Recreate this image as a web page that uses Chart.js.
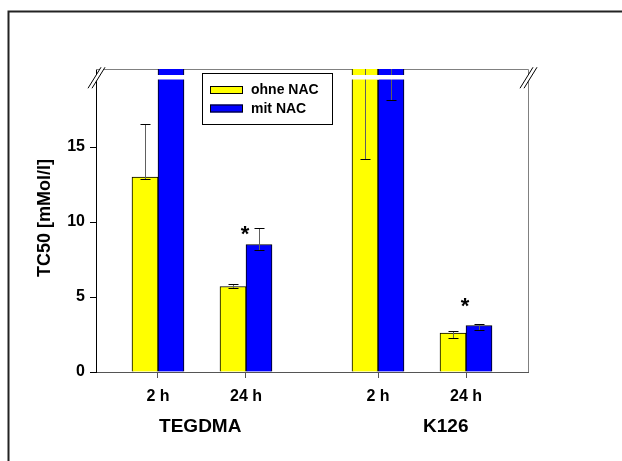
<!DOCTYPE html>
<html>
<head>
<meta charset="utf-8">
<script src="https://cdn.jsdelivr.net/npm/chart.js@4.4.1/dist/chart.umd.min.js"></script>
<style>
  body { margin: 0; background: #fff; }
  canvas { display: block; }
</style>
</head>
<body>
<canvas id="graph" width="622" height="461"></canvas>
<script>
var timeLabels = ['2 h', '24 h', '2 h', '24 h'];
var timePos = [0, 1, 2.5, 3.5];
var groupLabels = ['TEGDMA', 'K126'];
var groupPos = [0.48, 3.27];
var ohneNAC = [13.0, 5.7, 25, 2.6];
var ohneNACErrLo = [12.85, 5.6, 14.2, 2.3];
var ohneNACErrHi = [16.5, 5.9, 35.8, 2.75];
var mitNAC = [28, 8.5, 24, 3.1];
var mitNACErrLo = [null, 8.15, 18.1, 2.8];
var mitNACErrHi = [null, 9.6, 29.9, 3.2];
var sigStar = [null, 9.45, null, 4.65];
var yTicks = [0, 5, 10, 15];

var FONT = '"Liberation Sans", Arial, sans-serif';

function points(vals) {
  return vals.map(function (v, i) { return { x: timePos[i], y: v }; });
}

var errors = [
  { lo: ohneNACErrLo, hi: ohneNACErrHi },
  { lo: mitNACErrLo, hi: mitNACErrHi }
];

// frame, error bars, axis break, legend, labels
var extras = {
  id: 'extras',
  beforeDraw: function (chart) {
    var ctx = chart.ctx;
    ctx.save();
    ctx.strokeStyle = '#222';
    ctx.lineWidth = 2;
    ctx.beginPath();
    ctx.moveTo(8.5, 470);
    ctx.lineTo(8.5, 11.5);
    ctx.lineTo(640, 11.5);
    ctx.stroke();
    ctx.restore();
  },
  beforeDatasetsDraw: function (chart) {
    var ctx = chart.ctx, a = chart.chartArea;
    ctx.save();
    ctx.strokeStyle = '#808080';
    ctx.lineWidth = 1;
    ctx.beginPath();
    ctx.moveTo(a.left, a.top + 0.5);
    ctx.lineTo(a.right + 0.5, a.top + 0.5);
    ctx.lineTo(a.right + 0.5, a.bottom);
    ctx.stroke();
    ctx.restore();
  },
  afterDatasetsDraw: function (chart) {
    var ctx = chart.ctx, a = chart.chartArea;
    var ys = chart.scales.y, xs = chart.scales.x;
    ctx.save();
    ctx.beginPath();
    ctx.rect(a.left, a.top, a.right - a.left, a.bottom - a.top);
    ctx.clip();
    // error bars
    chart.data.datasets.forEach(function (ds, d) {
      var meta = chart.getDatasetMeta(d);
      meta.data.forEach(function (bar, i) {
        var lo = errors[d].lo[i], hi = errors[d].hi[i];
        if (lo == null || hi == null) return;
        var x = Math.round(bar.x) + 0.5;
        var yl = ys.getPixelForValue(lo), yh = ys.getPixelForValue(hi);
        ctx.strokeStyle = '#606060';
        ctx.lineWidth = 1;
        ctx.beginPath();
        ctx.moveTo(x, Math.round(yl) + 0.5);
        ctx.lineTo(x, Math.round(yh) + 0.5);
        ctx.stroke();
        ctx.strokeStyle = '#000';
        [yl, yh].forEach(function (y) {
          ctx.beginPath();
          ctx.moveTo(x - 5, Math.round(y) + 0.5);
          ctx.lineTo(x + 5, Math.round(y) + 0.5);
          ctx.stroke();
        });
      });
    });
    // white break band across bars above the break
    var bt = ys.getPixelForValue(19.8), bb = ys.getPixelForValue(19.5);
    ctx.fillStyle = '#fff';
    chart.data.datasets.forEach(function (ds, d) {
      var meta = chart.getDatasetMeta(d);
      meta.data.forEach(function (bar, i) {
        if (ds.data[i].y > 19.8) {
          ctx.fillRect(bar.x - bar.width / 2 - 1, bt, bar.width + 2, bb - bt);
        }
      });
    });
    ctx.restore();

    // axis break marks
    ctx.save();
    var by = (bt + bb) / 2;
    [a.left, a.right].forEach(function (cx) {
      ctx.fillStyle = '#fff';
      ctx.beginPath();
      ctx.moveTo(cx - 8, by + 11);
      ctx.lineTo(cx + 5, by - 10);
      ctx.lineTo(cx + 9, by - 10);
      ctx.lineTo(cx - 4, by + 11);
      ctx.closePath();
      ctx.fill();
      ctx.strokeStyle = '#000';
      ctx.lineWidth = 1;
      ctx.beginPath();
      ctx.moveTo(cx - 8, by + 11);
      ctx.lineTo(cx + 5, by - 10);
      ctx.moveTo(cx - 4, by + 11);
      ctx.lineTo(cx + 9, by - 10);
      ctx.stroke();
    });

    // significance stars
    ctx.fillStyle = '#000';
    ctx.font = 'bold 22px ' + FONT;
    ctx.textAlign = 'center';
    ctx.textBaseline = 'middle';
    sigStar.forEach(function (v, i) {
      if (v == null) return;
      ctx.fillText('*', xs.getPixelForValue(timePos[i]) - 1, ys.getPixelForValue(v) + 5);
    });

    // group labels
    ctx.font = 'bold 19px ' + FONT;
    groupLabels.forEach(function (t, i) {
      ctx.fillText(t, xs.getPixelForValue(groupPos[i]), 427);
    });

    // y title
    ctx.save();
    ctx.translate(45, 218);
    ctx.rotate(-Math.PI / 2);
    ctx.font = 'bold 18px ' + FONT;
    ctx.fillText('TC50 [mMol/l]', 0, 0);
    ctx.restore();

    // legend
    ctx.fillStyle = '#fff';
    ctx.fillRect(202, 73, 131, 52);
    ctx.strokeStyle = '#000';
    ctx.strokeRect(202.5, 73.5, 130, 51);
    ctx.font = 'bold 14px ' + FONT;
    ctx.textAlign = 'left';
    chart.data.datasets.forEach(function (ds, d) {
      var y = 86 + d * 18.5;
      ctx.fillStyle = ds.backgroundColor;
      ctx.fillRect(210, y, 33, 8);
      ctx.strokeStyle = '#000';
      ctx.strokeRect(210.5, y + 0.5, 32, 7);
      ctx.fillStyle = '#000';
      ctx.fillText(ds.label, 251, y + 4.5);
    });
    ctx.restore();
  }
};

var config = {
  type: 'bar',
  data: {
    datasets: [
      {
        label: 'ohne NAC',
        data: points(ohneNAC),
        backgroundColor: '#ffff00',
        borderColor: '#000',
        borderWidth: 1
      },
      {
        label: 'mit NAC',
        data: points(mitNAC),
        backgroundColor: '#0000ff',
        borderColor: '#000',
        borderWidth: 1
      }
    ]
  },
  plugins: [extras],
  options: {
    responsive: false,
    animation: false,
    barThickness: 26,
    layout: { padding: { left: 0, top: 69, right: 94, bottom: 0 } },
    plugins: { legend: { display: false }, tooltip: { enabled: false } },
    scales: {
      x: {
        type: 'linear',
        min: -0.7045,
        max: 4.2045,
        offset: false,
        afterFit: function (s) { s.height = 89; },
        afterBuildTicks: function (s) {
          s.ticks = timePos.map(function (v) { return { value: v }; });
        },
        grid: { offset: false, drawOnChartArea: false, tickLength: 6, color: '#555' },
        border: { color: '#555', width: 1 },
        ticks: {
          autoSkip: false,
          maxRotation: 0,
          padding: 9,
          color: '#000',
          font: { family: FONT, size: 16, weight: 'bold' },
          callback: function (v, i) { return timeLabels[i]; }
        }
      },
      y: {
        min: 0,
        max: 20.2,
        afterFit: function (s) { s.width = 96; },
        afterBuildTicks: function (s) {
          s.ticks = yTicks.map(function (v) { return { value: v }; });
        },
        grid: { drawOnChartArea: false, tickLength: 6, color: '#000' },
        border: { color: '#000', width: 1 },
        ticks: {
          padding: 5,
          color: '#000',
          font: { family: FONT, size: 16, weight: 'bold' }
        }
      }
    }
  }
};

var myChart = new Chart(document.getElementById('graph'), config);
</script>
</body>
</html>
